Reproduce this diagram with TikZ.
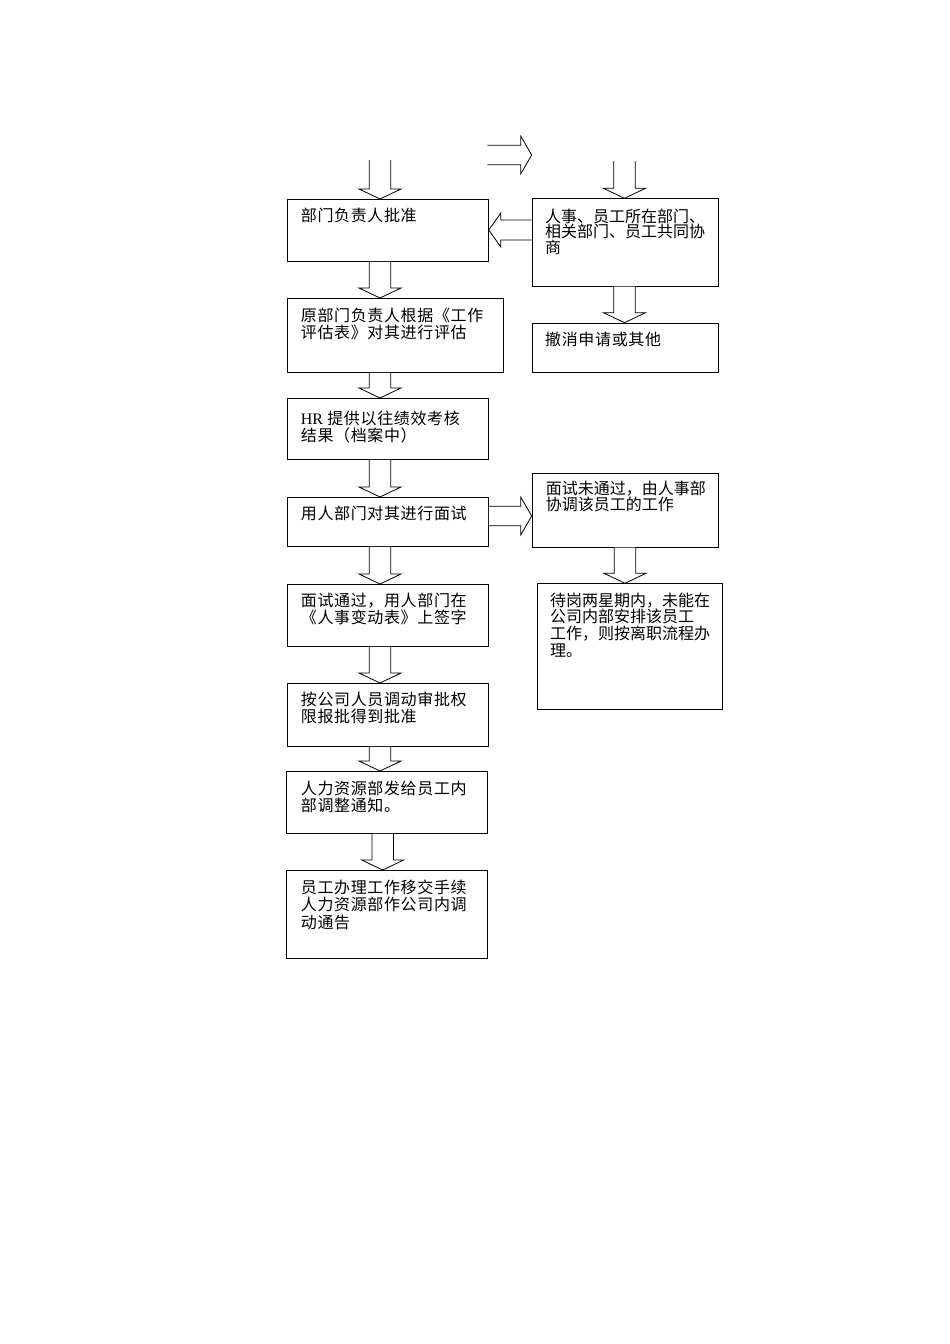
\documentclass[tikz,border=0pt]{standalone}
\usepackage{fontspec}
\setmainfont{Liberation Serif}
\newfontfamily\cjk[LetterSpace=4]{Noto Sans CJK SC}
\newfontfamily\cjkr{Noto Sans CJK SC}
\usetikzlibrary{calc}

\tikzset{
  box/.style={draw,rectangle,anchor=north west,inner sep=0pt,line width=0.8pt},
  txt/.style={anchor=north west,inner sep=0pt,align=left,
    font=\cjk\fontsize{16}{17.5}\selectfont},
  rtxt/.style={txt,font=\cjkr\fontsize{16}{16.7}\selectfont},
  blockarrow/.style={draw,line width=0.8pt,line join=miter,fill=white}
}

% block arrows between two points: #1 = fixed x or y, #2 = from, #3 = to
\newcommand{\flowdown}[3]{%
  \draw[blockarrow] let \p1=(#2), \p2=(#3) in
    (#1-10.7,\y1) -- (#1-10.7,\y2+10pt) -- (#1-21,\y2+10pt) -- (#1,\y2)
    -- (#1+21,\y2+10pt) -- (#1+10.7,\y2+10pt) -- (#1+10.7,\y1);}
\newcommand{\flowright}[3]{%
  \draw[blockarrow] let \p1=(#2), \p2=(#3) in
    (\x1,#1-9.7) -- (\x2-11pt,#1-9.7) -- (\x2-11pt,#1-19) -- (\x2,#1)
    -- (\x2-11pt,#1+19) -- (\x2-11pt,#1+9.7) -- (\x1,#1+9.7);}
\newcommand{\flowleft}[3]{%
  \draw[blockarrow] let \p1=(#2), \p2=(#3) in
    (\x1,#1-10) -- (\x2+12pt,#1-10) -- (\x2+12pt,#1-17) -- (\x2,#1)
    -- (\x2+12pt,#1+17) -- (\x2+12pt,#1+10) -- (\x1,#1+10);}

\begin{document}
\begin{tikzpicture}[x=1pt,y=-1pt]
\useasboundingbox (0,0) rectangle (950,1344);

% left column
\node [box,minimum width=201,minimum height=62] (appr) at (287,199) {};
\node [txt] (appr-t) at (300.7,207.5) {部门负责人批准};
\node [box,minimum width=216,minimum height=74] (eval) at (287,298) {};
\node [txt] (eval-t) at (300.7,307.5) {原部门负责人根据《工作\\评估表》对其进行评估};
\node [box,minimum width=201,minimum height=61] (hrrec) at (287,398) {};
\node [txt] (hrrec-t) at (300.7,410.5) {\textrm{HR} 提供以往绩效考核\\结果（档案中）};
\node [box,minimum width=201,minimum height=49] (intv) at (287,497) {};
\node [txt] (intv-t) at (300.7,505.5) {用人部门对其进行面试};
\node [box,minimum width=201,minimum height=62] (pass) at (287,584) {};
\node [txt] (pass-t) at (300.7,592.5) {面试通过，用人部门在\\《人事变动表》上签字};
\node [box,minimum width=201,minimum height=63] (aprv) at (287,683) {};
\node [txt] (aprv-t) at (300.7,691.5) {按公司人员调动审批权\\限报批得到批准};
\node [box,minimum width=201,minimum height=62] (notice) at (286,771) {};
\node [txt] (notice-t) at (300.7,780.5) {人力资源部发给员工内\\部调整通知。};
\node [box,minimum width=201,minimum height=88] (handover) at (286,870) {};
\node [txt] (handover-t) at (300.7,879.5) {员工办理工作移交手续\\人力资源部作公司内调\\动通告};

% right column
\node [box,minimum width=186.6,minimum height=87.4] (consult) at (531.7,198.3) {};
\node [rtxt,font=\cjkr\fontsize{16}{15.4}\selectfont] (consult-t) at (545,208.5) {人事、员工所在部门、\\相关部门、员工共同协\\商};
\node [box,minimum width=186.6,minimum height=49.6] (cancel) at (531.7,322.7) {};
\node [txt] (cancel-t) at (545,331.5) {撤消申请或其他};
\node [box,minimum width=186.6,minimum height=74] (fail) at (531.7,472.7) {};
\node [rtxt] (fail-t) at (545.7,480.5) {面试未通过，由人事部\\协调该员工的工作};
\node [box,minimum width=185.6,minimum height=126] (wait) at (536.7,583.3) {};
\node [rtxt] (wait-t) at (550,592.5) {待岗两星期内，未能在\\公司内部安排该员工\\工作，则按离职流程办\\理。};

% free ends
\coordinate (startL) at (380,160);
\coordinate (startR) at (624.5,161);
\coordinate (topL) at (487.3,155);
\coordinate (topR) at (531.7,155);

% down arrows
\flowdown{380}{startL}{appr.north}
\flowdown{380}{appr.south}{eval.north}
\flowdown{380}{eval.south}{hrrec.north}
\flowdown{380}{hrrec.south}{intv.north}
\flowdown{380}{intv.south}{pass.north}
\flowdown{380}{pass.south}{aprv.north}
\flowdown{380}{aprv.south}{notice.north}
\flowdown{382.7}{notice.south}{handover.north}
\flowdown{624.5}{startR}{consult.north}
\flowdown{624.5}{consult.south}{cancel.north}
\flowdown{625}{fail.south}{wait.north}

% side arrows
\flowright{155}{topL}{topR}
\flowleft{230}{consult.west}{appr.east}
\flowright{516}{intv.east}{fail.west}
\end{tikzpicture}
\end{document}
